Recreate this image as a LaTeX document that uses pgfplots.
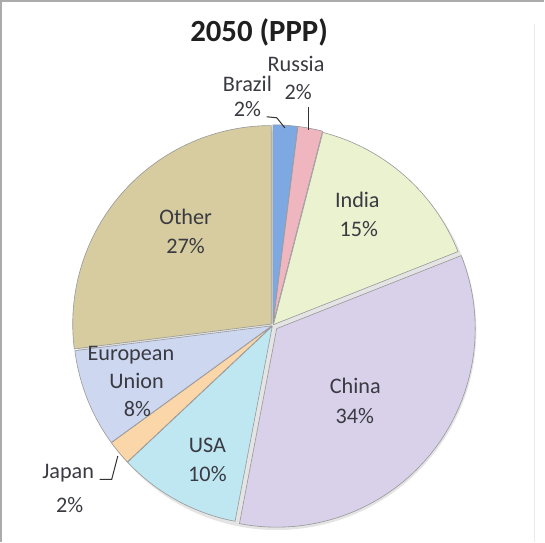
\documentclass[border=0pt]{standalone}
\usepackage{pgfplots}
\pgfplotsset{compat=1.18}
\usepackage{pgfplotstable}
\usepackage{fontspec}
\setmainfont{Carlito}
\definecolor{slice0}{RGB}{125,168,226}
\definecolor{slice1}{RGB}{240,182,192}
\definecolor{slice2}{RGB}{234,242,208}
\definecolor{slice3}{RGB}{217,208,233}
\definecolor{slice4}{RGB}{190,231,242}
\definecolor{slice5}{RGB}{250,214,168}
\definecolor{slice6}{RGB}{205,215,240}
\definecolor{slice7}{RGB}{214,204,160}
\definecolor{labtxt}{RGB}{58,58,66}
\pgfplotstableread{
name pct explode
Brazil 2 2
Russia 2 2
India 15 1
China 34 5
USA 10 1
Japan 2 1
EU 8 1
Other 27 2
}\piedata
\begin{document}
\begin{tikzpicture}
\begin{axis}[scale only axis, width=545bp, height=542bp,
  xmin=0, xmax=545, ymin=0, ymax=542, axis lines=none, clip=false]
% chart frame
\draw[draw=black!33, line width=1.6bp] (axis cs:8.5,0) -- (axis cs:8.5,534.5) -- (axis cs:545,534.5);
\draw[draw=black!8, line width=1bp] (axis cs:535,0) -- (axis cs:535,512);
% soft shadow
\fill[black!30, opacity=0.35] (axis cs:281,209) circle[radius=197bp];
\pgfplotstablegetrowsof{\piedata}
\pgfmathtruncatemacro\N{\pgfplotsretval-1}
\def\cum{0}
\pgfplotsforeachungrouped \i in {0,...,\N}{%
  \pgfplotstablegetelem{\i}{pct}\of\piedata
  \let\p\pgfplotsretval
  \pgfplotstablegetelem{\i}{explode}\of\piedata
  \let\ex\pgfplotsretval
  \pgfmathsetmacro\a{90-3.6*\cum}%
  \pgfmathsetmacro\b{90-3.6*(\cum+\p)}%
  \pgfmathsetmacro\m{(\a+\b)/2}%
  \pgfmathsetmacro\ox{277+\ex*cos(\m)}%
  \pgfmathsetmacro\oy{214+\ex*sin(\m)}%
  \pgfmathsetmacro\cum{\cum+\p}%
  \edef\temp{\noexpand\filldraw[fill=slice\i, draw=black!40, line width=0.6bp, line join=round] (axis cs:\ox,\oy) -- ++(\a:196bp) arc[start angle=\a, end angle=\b, radius=196bp] -- cycle;}%
  \temp
}
% title
\node[anchor=base, font=\fontsize{30.5}{36}\selectfont\bfseries, text=black!88] at (axis cs:263.5,494.5) {2050 (PPP)};
% labels
\begin{scope}[every node/.style={anchor=base, text=labtxt, font=\fontsize{22}{26}\selectfont, inner sep=0pt}]
\node at (axis cs:300,465) {Russia};
\node at (axis cs:302,437) {2\%};
\node at (axis cs:252,445) {Brazil};
\node at (axis cs:252,420) {2\%};
\node at (axis cs:360.5,330) {India};
\node at (axis cs:362,302) {15\%};
\node at (axis cs:191,314) {Other};
\node at (axis cs:191,285) {27\%};
\node at (axis cs:358.5,147) {China};
\node at (axis cs:358,117) {34\%};
\node at (axis cs:212.5,89) {USA};
\node at (axis cs:212.5,60) {10\%};
\node at (axis cs:137,179) {European};
\node at (axis cs:142.5,152) {Union};
\node at (axis cs:143.5,124) {8\%};
\node at (axis cs:75,63) {Japan};
\node at (axis cs:76.5,29) {2\%};
\end{scope}
% leader lines
\draw[black!80, line width=1bp] (axis cs:271,420) -- (axis cs:281,419) -- (axis cs:289,409);
\draw[black!80, line width=1bp] (axis cs:312,430) -- (axis cs:312,407);
\draw[black!80, line width=1bp] (axis cs:106,62) -- (axis cs:118,62) -- (axis cs:124,85);
\end{axis}
\end{tikzpicture}
\end{document}
